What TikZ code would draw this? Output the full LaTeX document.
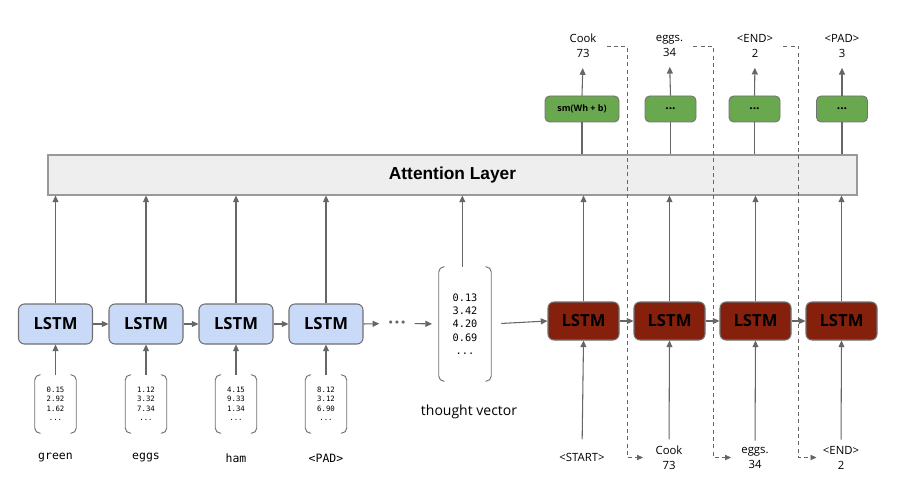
\documentclass[tikz,border=0pt]{standalone}
\usepackage{fontspec}
\setmainfont{Open Sans}
\newfontfamily\monof{DejaVu Sans Mono}
\newfontfamily\arialf{Liberation Sans}
\newfontfamily\dejaf{DejaVu Sans}
\usetikzlibrary{arrows.meta,calc}
\definecolor{arrgray}{HTML}{666666}
\definecolor{bordgray}{HTML}{707070}
\definecolor{lstmblue}{HTML}{C9DAF8}
\definecolor{lstmred}{HTML}{85200C}
\definecolor{smgreen}{HTML}{6AA84F}
\definecolor{attfill}{HTML}{EEEEEE}
\definecolor{attbord}{HTML}{999999}
\begin{document}
\begin{tikzpicture}[x=0.75pt,y=-0.75pt,
  arr/.style={draw=arrgray, line width=0.8pt, -{Triangle[length=5pt,width=4.5pt]}},
  ln/.style={draw=arrgray, line width=0.8pt},
  dsh/.style={draw=arrgray, line width=0.6pt, dash pattern=on 3pt off 2.5pt, -{Triangle[length=4.5pt,width=4pt]}},
  att/.style={draw=attbord, fill=attfill, line width=0.8pt, minimum width=606.75pt, minimum height=30pt, inner sep=0pt, font=\arialf\bfseries\fontsize{13}{15}\selectfont},
  enc/.style={draw=bordgray, fill=lstmblue, line width=0.8pt, rounded corners=4.5pt, minimum width=55.5pt, minimum height=30pt, inner sep=0pt, font=\bfseries\fontsize{12.5}{14}\selectfont},
  dec/.style={draw=bordgray, fill=lstmred, line width=0.8pt, rounded corners=4.5pt, minimum width=53.25pt, minimum height=28.5pt, inner sep=0pt, font=\bfseries\fontsize{12.5}{14}\selectfont},
  smx/.style={draw=black!55, fill=smgreen, line width=0.7pt, rounded corners=3.5pt, minimum height=19.5pt, inner sep=0pt, font=\bfseries\fontsize{6.7}{8}\selectfont},
  smdots/.style={smx, minimum width=38.25pt, font=\bfseries\fontsize{9}{10}\selectfont},
  vec/.style={minimum width=30.75pt, minimum height=43.5pt, inner sep=0pt, align=center, font=\monof\fontsize{5.5}{7.1}\selectfont},
  tvec/.style={minimum width=39pt, minimum height=85.5pt, inner sep=0pt, align=center, font=\monof\fontsize{7.7}{10}\selectfont},
  br/.style={draw=bordgray, line width=0.7pt, rounded corners=4pt},
  word/.style={font=\monof\fontsize{8.6}{10}\selectfont},
  tok/.style={align=center, font=\fontsize{8.5}{11.25}\selectfont, inner sep=1pt},
]
\useasboundingbox (0,0) rectangle (909,495);

% attention layer
\node[att] (att) at (452.5,175) {Attention Layer};

% encoder
\node[enc] (e1) at (55.5,324) {LSTM};
\node[enc] (e2) at (146,324) {LSTM};
\node[enc] (e3) at (236,324) {LSTM};
\node[enc] (e4) at (326,324) {LSTM};

\node[vec] (v1) at (55.5,404) {0.15\\2.92\\1.62\\...};
\node[vec] (v2) at (146,404) {1.12\\3.32\\7.34\\...};
\node[vec] (v3) at (236,404) {4.15\\9.33\\1.34\\...};
\node[vec] (v4) at (326,404) {8.12\\3.12\\6.90\\...};

\node[word] (w1) at (55.5,458) {green};
\node[word] (w2) at (146,458) {eggs};
\node[word] (w3) at (236,458) {ham};
\node[word] (w4) at (326,458) {<PAD>};

\node[text=arrgray, inner sep=1pt, font=\dejaf\fontsize{8}{8}\selectfont] (dots) at (397,323.5) {•••};

\node[tvec] (tv) at (465,324) {0.13\\3.42\\4.20\\0.69\\...};
\node[font=\fontsize{10.5}{12}\selectfont] (tvl) at (469,412) {thought vector};

\foreach \n in {v1,v2,v3,v4,tv}{
  \draw[br] ([xshift=4.5pt]\n.north west) -- (\n.north west) -- (\n.south west) -- ([xshift=4.5pt]\n.south west);
  \draw[br] ([xshift=-4.5pt]\n.north east) -- (\n.north east) -- (\n.south east) -- ([xshift=-4.5pt]\n.south east);
}

% decoder
\node[dec] (d1) at (583.5,321) {LSTM};
\node[dec] (d2) at (669.5,321) {LSTM};
\node[dec] (d3) at (755.5,321) {LSTM};
\node[dec] (d4) at (841.5,321) {LSTM};

\node[smx, minimum width=55.5pt] (g1) at (582,109) {sm(Wh + b)};
\node[smdots] (g2) at (670.5,109) {...};
\node[smdots] (g3) at (754.5,109) {...};
\node[smdots] (g4) at (842,109) {...};

\node[tok] (o1) at (583,46) {Cook\\73};
\node[tok] (o2) at (669.5,46) {eggs.\\34};
\node[tok] (o3) at (755,46) {<END>\\2};
\node[tok] (o4) at (842,46) {<PAD>\\3};

\node[tok] (i1) at (582,457) {<START>};
\node[tok] (i2) at (669,457.5) {Cook\\73};
\node[tok] (i3) at (755,457.5) {eggs.\\34};
\node[tok] (i4) at (841,457.5) {<END>\\2};

% encoder connectors
\foreach \k in {1,2,3,4}{
  \draw[arr] (v\k.north) -- (e\k.south);
  \draw[arr] (e\k.north) -- (e\k.north |- att.south);
}
\draw[arr] (e1.east) -- (e2.west);
\draw[arr] (e2.east) -- (e3.west);
\draw[arr] (e3.east) -- (e4.west);
\draw[arr, shorten >=5pt] (e4.east) -- (dots.west);
\draw[arr, shorten <=5pt, shorten >=5pt] (dots.east) -- (tv.west);
\draw[arr] ([xshift=-2pt]tv.north) -- ([xshift=-2pt]tv.north |- att.south);
\draw[arr, shorten <=7.5pt] (tv.east) -- (d1.west);

% decoder connectors
\draw[arr] (d1.east) -- (d2.west);
\draw[arr] (d2.east) -- (d3.west);
\draw[arr] (d3.east) -- (d4.west);
\foreach \k in {1,2,3,4}{
  \draw[arr] (d\k.north) -- (d\k.north |- att.south);
  \draw[ln] (g\k.south |- att.north) -- (g\k.south);
  \draw[arr, shorten >=6.5pt] (g\k.north) -- (o\k.south);
}
\draw[arr, shorten <=9pt] (i1.north) -- (d1.south);
\draw[arr, shorten <=3.5pt] (i2.north) -- (d2.south);
\draw[arr, shorten <=3.5pt] (i3.north) -- (d3.south);
\draw[arr, shorten <=3.5pt] (i4.north) -- (d4.south);

% feedback dashed lines
\coordinate (k1) at (627,0);
\coordinate (k2) at (713,0);
\coordinate (k3) at (798.5,0);
\draw[dsh] ([xshift=6.5pt]o1.east) -- (o1.east -| k1) -- (k1 |- i2.west) -- ($(k1 |- i2.west)+(16,0)$);
\draw[dsh] ([xshift=6.5pt]o2.east) -- (o2.east -| k2) -- (k2 |- i3.west) -- ($(k2 |- i3.west)+(18,0)$);
\draw[dsh] ([xshift=6.5pt]o3.east) -- (o3.east -| k3) -- (k3 |- i4.west) -- ($(k3 |- i4.west)+(18,0)$);
\end{tikzpicture}
\end{document}
